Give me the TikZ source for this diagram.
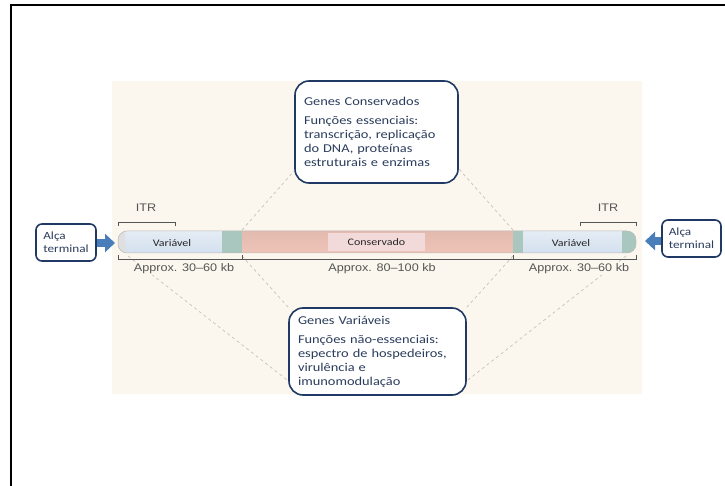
\documentclass[tikz,border=0pt]{standalone}
\usepackage{fontspec}
\setmainfont{Carlito}[FakeStretch=1.2]
\newfontfamily\figfont{Liberation Sans}[FakeStretch=1.15]
\usetikzlibrary{positioning,arrows.meta,calc,backgrounds}
\definecolor{navy}{HTML}{1F3864}
\definecolor{boxtext}{HTML}{2B3D5C}
\definecolor{cream}{HTML}{FCF7EE}
\definecolor{varblue}{HTML}{D3E0EE}
\definecolor{tealgene}{HTML}{A9C7BE}
\definecolor{rose}{HTML}{EFC4B8}
\definecolor{roselight}{HTML}{F3DADA}
\definecolor{arrowblue}{HTML}{4A7EBB}
\definecolor{zoomgray}{HTML}{C9C1B8}
\definecolor{dimgray}{HTML}{555555}
\tikzset{
    genebox/.style={rectangle, draw=navy, line width=1.6pt, rounded corners=14pt, fill=white, align=left, text=boxtext, font=\fontsize{12}{14}\selectfont, inner xsep=9pt},
    loopbox/.style={rectangle, draw=navy, line width=1.6pt, rounded corners=6pt, fill=white, align=left, text=boxtext, font=\fontsize{11}{13}\selectfont, inner sep=3pt},
    pointer/.style={-{Triangle[width=18pt,length=10pt]}, line width=8pt, draw=arrowblue},
    magnify/.style={dashed, draw=zoomgray, line width=0.7pt},
    seglabel/.style={font=\fontsize{10}{12}\selectfont, text=black!85, inner sep=1pt},
    dimlabel/.style={font=\figfont\fontsize{11}{13}\selectfont, text=dimgray, fill=cream, inner sep=1pt},
    dim/.style={draw=dimgray, line width=0.6pt}
}
\begin{document}
\begin{tikzpicture}[x=1pt, y=-1pt]
    \useasboundingbox (0,0) rectangle (725,486);
    \draw[line width=2pt] (10.5,486) |- (725,5);

    % boxes with the gene functions
    \node[genebox, minimum width=163pt, minimum height=102pt, text width=145pt] (cons) at (376.5,132)
        {Genes Conservados\\[5pt]Funções essenciais:\\transcrição, replicação\\do DNA, proteínas\\estruturais e enzimas};
    \node[genebox, minimum width=177pt, minimum height=87pt, text width=159pt] (var) at (377.5,351.5)
        {Genes Variáveis\\[5pt]Funções não-essenciais:\\espectro de hospedeiros,\\virulência e\\imunomodulação};

    % genome
    \coordinate (endL) at (118,242);
    \coordinate (itrL) at (242,242);
    \coordinate (itrR) at (513,242);
    \coordinate (endR) at (636,242);
    \begin{scope}
        \clip[rounded corners=9pt] (118,231) rectangle (636,253);
        \shade[top color=varblue!60!white, bottom color=varblue] (118,231) rectangle (222,253);
        \shade[top color=tealgene, middle color=tealgene!35!white, bottom color=tealgene] (222,231) rectangle (242,253);
        \shade[top color=rose!95!black, middle color=rose!80!white, bottom color=rose] (242,231) rectangle (513,253);
        \shade[top color=tealgene, middle color=tealgene!35!white, bottom color=tealgene] (513,231) rectangle (523,253);
        \shade[top color=varblue!60!white, bottom color=varblue] (523,231) rectangle (622,253);
        \shade[top color=tealgene, middle color=tealgene!35!white, bottom color=tealgene] (622,231) rectangle (636,253);
        \shade[top color=gray!25, middle color=white, bottom color=gray!25] (118,231) rectangle (125,253);
    \end{scope}
    \draw[gray!55, line width=0.5pt, rounded corners=9pt] (118,231) rectangle (636,253);
    \node[seglabel] (varLtxt) at (172,243) {Variável};
    \node[seglabel, fill=roselight, minimum width=97pt, minimum height=18pt] (constxt) at (376.5,242) {Conservado};
    \node[seglabel] (varRtxt) at (571,243) {Variável};

    % brackets
    \draw[dim] (118,226) |- (175,222) -- (175,226);
    \draw[dim] (580,226) |- (636,222) -- (636,226);
    \draw[dim] (118,255) |- (636,259) -- (636,255);
    \draw[dim] (242,259) -- (242,255);
    \draw[dim] (513,259) -- (513,255);
    \node[dimlabel] (itrLtxt) at (146,208) {ITR};
    \node[dimlabel] (itrRtxt) at (608,208) {ITR};
    \node[dimlabel] (dimL) at (184,269) {Approx. 30–60 kb};
    \node[dimlabel] (dimC) at (382,269) {Approx. 80–100 kb};
    \node[dimlabel] (dimR) at (579,269) {Approx. 30–60 kb};

    % terminal loops
    \node[loopbox, minimum width=60pt, minimum height=37pt] (alcaL) at (66,242.5) {Alça\\terminal};
    \node[loopbox, minimum width=59pt, minimum height=37pt] (alcaR) at (691.5,238.5) {Alça\\terminal};
    \coordinate (tipL) at (115,243);
    \coordinate (tipR) at (645,241);
    \draw[pointer] (alcaL.east |- tipL) -- (tipL);
    \draw[pointer] (alcaR.west |- tipR) -- (tipR);

    \begin{scope}[on background layer]
        \fill[cream] (112,81) rectangle (642,394);
        \draw[magnify] (242,230) -- ([yshift=13pt]cons.south west);
        \draw[magnify] (513,230) -- ([yshift=15pt]cons.south east);
        \draw[magnify] (128,256) -- ([yshift=15pt]var.south west);
        \draw[magnify] (242,256) -- (var.north west);
        \draw[magnify] (513,256) -- (var.north east);
        \draw[magnify] (626,256) -- ([yshift=15pt]var.south east);
    \end{scope}
\end{tikzpicture}
\end{document}
